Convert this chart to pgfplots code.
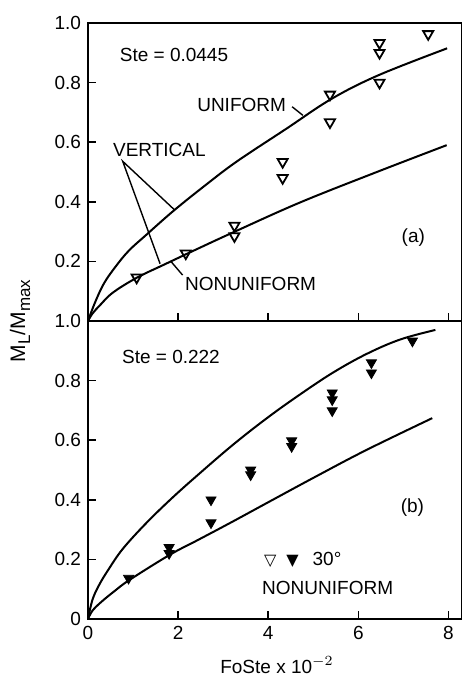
\documentclass[border=0pt]{standalone}
\usepackage{fontspec}
\setmainfont{Liberation Sans}
\newfontfamily\sym{DejaVu Sans}
\usepackage{pgfplots}
\pgfplotsset{compat=1.18}

\pgfplotsset{
  panel/.style={
    scale only axis, width=187pt, height=149pt,
    xmin=0, xmax=8.3, ymin=0, ymax=1,
    xtick={0,2,4,6,8},
    xtick pos=bottom, ytick pos=left,
    tick align=inside, major tick length=4pt,
    axis line style={line width=1pt},
    every tick/.style={line width=0.8pt, black},
    tick label style={font=\fontsize{9.5}{10}\selectfont},
    /pgf/number format/assume math mode=true,
    clip=false,
  },
  curve/.style={black, line width=1pt, smooth, tension=0.6, no marks},
  opentri/.style={only marks, mark=triangle, mark size=2.9pt,
    mark options={rotate=180, line width=0.9pt, black, fill=white}},
  filltri/.style={only marks, mark=triangle*, mark size=2.9pt,
    mark options={rotate=180, black, fill=black}},
}

\begin{document}
\begin{tikzpicture}
\path[use as bounding box] (-44pt,-29pt) rectangle (187pt,309.5pt);

% (b) Ste = 0.222
\begin{axis}[panel, name=bot, at={(0,0)}, anchor=south west,
  ytick={0,0.2,0.4,0.6,0.8,1.0},
  yticklabels={0,0.2,0.4,0.6,0.8,1.0},
  xticklabels={0,2,4,6,8}]
  % uniform
  \addplot[curve] coordinates {(0,0) (0.1,0.065) (0.25,0.115) (0.45,0.165)
    (0.77,0.235) (1.3,0.323) (1.88,0.408) (2.48,0.489) (3.22,0.585)
    (3.97,0.674) (4.71,0.754) (5.45,0.828) (6.19,0.89) (6.93,0.938)
    (7.71,0.97)};
  % nonuniform
  \addplot[curve] coordinates {(0,0) (0.1,0.028) (0.3,0.058) (0.6,0.095)
    (0.92,0.131) (1.81,0.215) (2.4,0.262) (3.15,0.322) (4.1,0.40)
    (5.08,0.48) (6.19,0.568) (7.64,0.674)};
  \addplot[filltri] coordinates {(0.9,0.137) (1.8,0.24) (1.8,0.22)
    (2.73,0.40) (2.73,0.323) (3.61,0.50) (3.61,0.484) (4.52,0.598)
    (4.52,0.579) (5.42,0.759) (5.42,0.736) (5.42,0.699) (6.29,0.86)
    (6.29,0.826) (7.2,0.933)};
  \node[anchor=west, font=\fontsize{9.5}{10}\selectfont] at (axis cs:0.6,0.88) {Ste = 0.222};
  \node[font=\fontsize{9.5}{10}\selectfont] at (axis cs:7.2,0.374) {(b)};
  \node[anchor=west, font=\fontsize{9.5}{10}\selectfont] at (axis cs:3.75,0.199)
    {{\sym\fontsize{8}{8}\selectfont ▽\hspace{5pt}▼}\hspace{7pt}30°};
  \node[anchor=west, font=\fontsize{9.5}{10}\selectfont] at (axis cs:3.71,0.104) {NONUNIFORM};
\end{axis}

% (a) Ste = 0.0445
\begin{axis}[panel, name=top, at={(0,149pt)}, anchor=south west,
  ytick={0.2,0.4,0.6,0.8,1.0},
  yticklabels={0.2,0.4,0.6,0.8,1.0},
  xticklabels={}]
  % uniform
  \addplot[curve] coordinates {(0,0) (0.15,0.06) (0.35,0.125) (0.6,0.18)
    (0.9,0.235) (1.3,0.29) (1.9,0.37) (2.6,0.455) (3.3,0.535) (4.4,0.645)
    (5.4,0.745) (6.45,0.825) (7.97,0.915)};
  % nonuniform
  \addplot[curve] coordinates {(0,0) (0.1,0.025) (0.26,0.052) (0.55,0.095)
    (1.08,0.145) (1.7,0.19) (2.4,0.24) (3.23,0.298) (4.71,0.398)
    (6.41,0.5) (7.96,0.59)};
  \addplot[opentri] coordinates {(1.08,0.146) (2.17,0.227) (3.25,0.32)
    (3.25,0.285) (4.32,0.534) (4.32,0.48) (5.37,0.76) (5.37,0.667)
    (6.47,0.933) (6.47,0.90) (6.47,0.80) (7.55,0.963)};
  \node[anchor=west, font=\fontsize{9.5}{10}\selectfont] at (axis cs:0.55,0.893) {Ste = 0.0445};
  \node[anchor=east, font=\fontsize{9.5}{10}\selectfont] at (axis cs:4.55,0.726) {UNIFORM};
  \draw[line width=0.7pt] (axis cs:4.53,0.719) -- (axis cs:4.77,0.69);
  \node[anchor=west, font=\fontsize{9.5}{10}\selectfont] at (axis cs:0.4,0.575) {VERTICAL};
  \draw[line width=0.7pt] (axis cs:1.92,0.373) -- (axis cs:0.77,0.536) -- (axis cs:1.6,0.192);
  \node[anchor=west, font=\fontsize{9.5}{10}\selectfont] at (axis cs:2.0,0.124) {NONUNIFORM};
  \draw[line width=0.7pt] (axis cs:1.84,0.2) -- (axis cs:2.1,0.154);
  \node[font=\fontsize{9.5}{10}\selectfont] at (axis cs:7.22,0.281) {(a)};
\end{axis}

\node[rotate=90, font=\fontsize{10.5}{11}\selectfont] at (-34pt,149pt)
  {M\raisebox{-2.5pt}{\fontsize{8.5}{9}\selectfont L}/M\raisebox{-2.5pt}{\fontsize{8.5}{9}\selectfont max}};
\node[anchor=base, font=\fontsize{9.5}{10}\selectfont] at (94.5pt,-27pt) {FoSte x 10$^{-2}$};
\end{tikzpicture}
\end{document}
